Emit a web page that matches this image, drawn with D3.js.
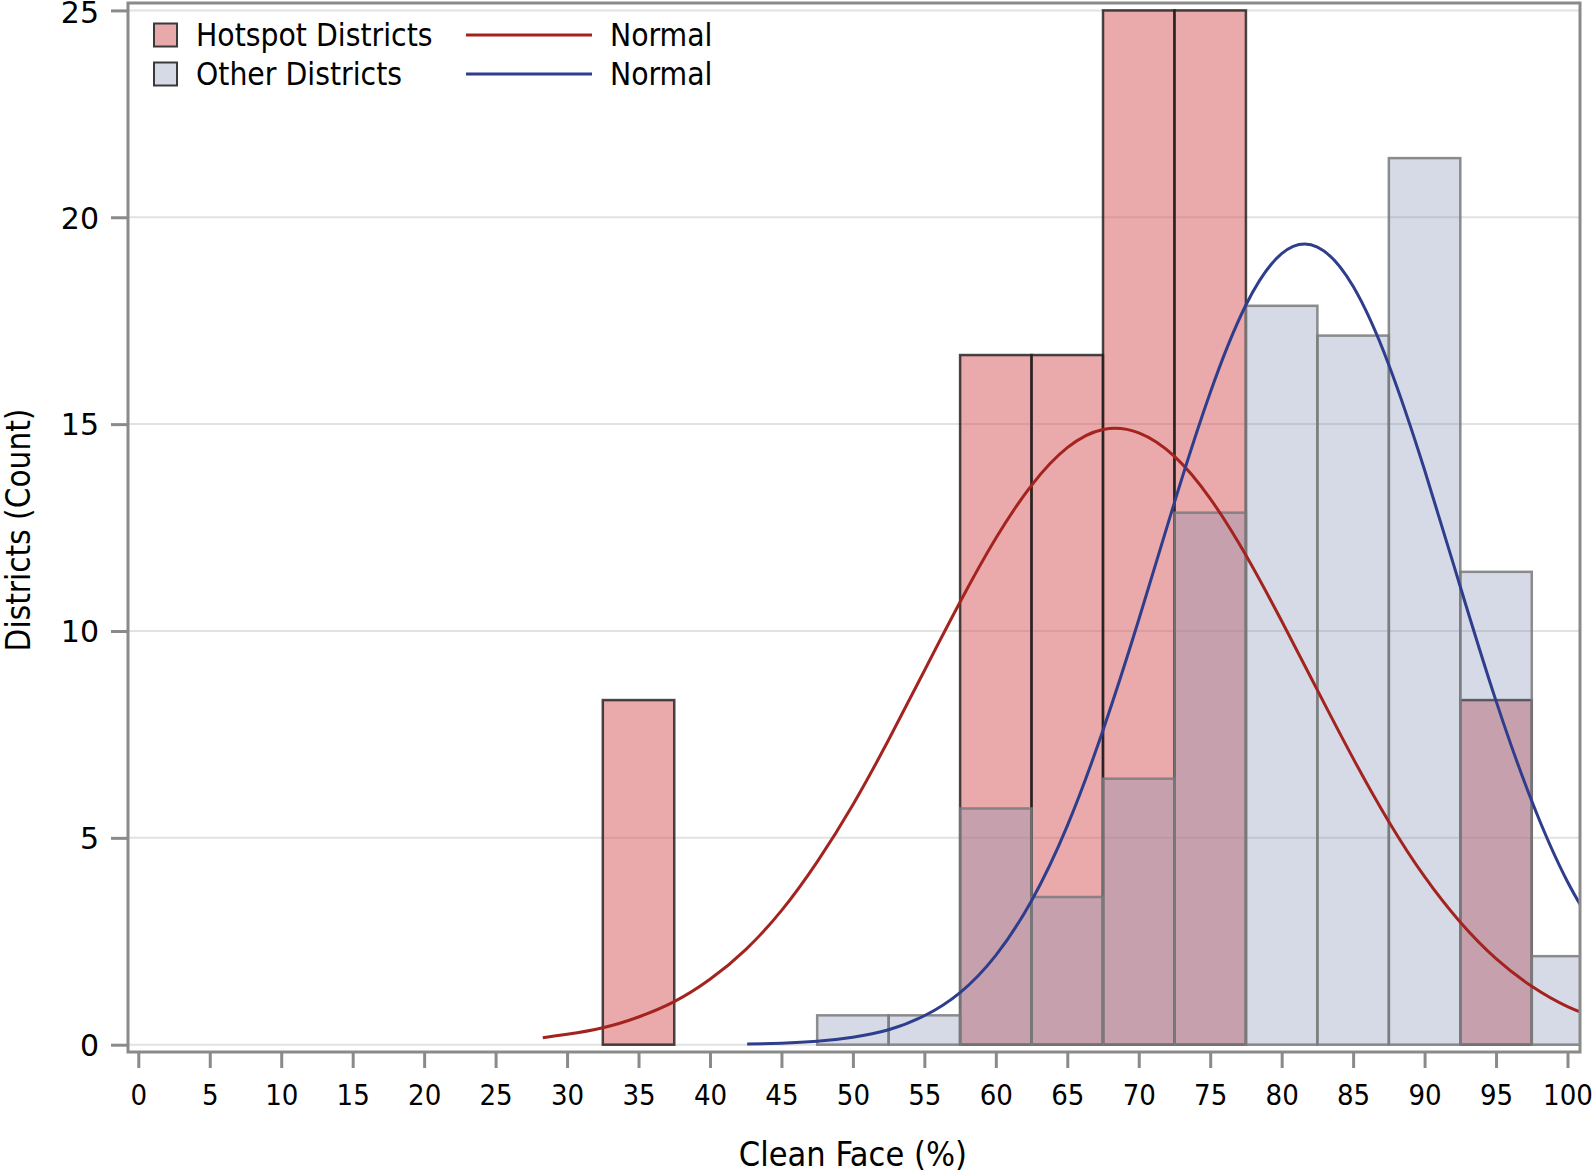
<!DOCTYPE html>
<html>
<head>
<meta charset="utf-8">
<script src="https://cdn.jsdelivr.net/npm/d3@7"></script>
<style>
  html, body { margin: 0; padding: 0; background: #fff; }
  svg { display: block; }
  .narrow { font-family: "Liberation Sans Narrow", "DejaVu Sans Condensed", "Liberation Sans", sans-serif; }
</style>
</head>
<body>
<svg id="chart" width="1595" height="1175"></svg>
<script>
// ---------------- data ----------------
const xTickValues = [0,5,10,15,20,25,30,35,40,45,50,55,60,65,70,75,80,85,90,95,100];
const yTickValues = [0,5,10,15,20,25];

const hotspotBins = [35,40,45,50,55,60,65,70,75,80,85,90,95];
const hotspotPct  = [8.33,0,0,0,0,16.67,16.67,25,25,0,0,0,8.33];

const otherBins = [50,55,60,65,70,75,80,85,90,95,100];
const otherPct  = [0.71,0.71,5.71,3.57,6.43,12.86,17.86,17.14,21.43,11.43,2.14];

// Normal curves, points
const hotspotNormX = [28.3,30,32.5,35,37.5,40,42.5,45,47.5,50,52.5,55,57.5,60,62.5,65,67.5,70,72.5,75,77.5,80,82.5,85,87.5,90,92.5,95,97.5,100,102.5];
const hotspotNormY = [0.17,0.25,0.41,0.67,1.04,1.58,2.30,3.24,4.42,5.80,7.37,9.04,10.70,12.24,13.52,14.43,14.87,14.79,14.22,13.20,11.83,10.24,8.57,6.92,5.39,4.06,2.96,2.08,1.41,0.92,0.59];

const otherNormX = [42.6,45,47.5,50,52.5,55,57.5,60,62.5,65,67.5,70,72.5,75,77.5,80,82.5,85,87.5,90,92.5,95,97.5,100,102.5];
const otherNormY = [0.015,0.035,0.081,0.18,0.36,0.70,1.26,2.16,3.48,5.29,7.60,10.27,13.11,15.76,17.88,19.12,19.28,18.33,16.43,13.89,11.07,8.31,5.89,3.94,2.48];

const legendLabels = ["Hotspot Districts", "Other Districts"];
const normalLabels = ["Normal", "Normal"];
const xTitle = "Clean Face (%)";
const yTitle = "Districts (Count)";

// ---------------- layout ----------------
const svg = d3.select("#chart");
const frame = {left: 128, right: 1580, top: 3, bottom: 1052};
const x = d3.scaleLinear().domain([0, 100]).range([138.3, 1567.5]);
const y = d3.scaleLinear().domain([0, 25]).range([1044.7, 10.4]);
const binW = 5;

const colors = {
  redFill: "rgb(213,83,85)", redFillOpacity: 0.5,
  blueFill: "rgb(128,143,179)", blueFillOpacity: 0.33,
  redStroke: "#1a1a1a", blueStroke: "#7a7a7a",
  redLine: "#a3231f", blueLine: "#2e3d8c",
  axis: "#8a8a8a", grid: "#e2e2e2"
};

svg.append("defs").append("clipPath").attr("id", "plotClip")
  .append("rect")
  .attr("x", frame.left).attr("y", frame.top)
  .attr("width", frame.right - frame.left).attr("height", frame.bottom - frame.top);

// gridlines
svg.append("g").selectAll("line").data(yTickValues).join("line")
  .attr("x1", frame.left).attr("x2", frame.right)
  .attr("y1", d => y(d)).attr("y2", d => y(d))
  .attr("stroke", colors.grid).attr("stroke-width", 2);

const plot = svg.append("g").attr("clip-path", "url(#plotClip)");

// red (hotspot) bars
const hot = hotspotBins.map((b, i) => ({b, v: hotspotPct[i]}));
plot.append("g").selectAll("rect").data(hot).join("rect")
  .attr("x", d => x(d.b - binW / 2))
  .attr("width", d => x(d.b + binW / 2) - x(d.b - binW / 2))
  .attr("y", d => y(d.v))
  .attr("height", d => y(0) - y(d.v))
  .attr("fill", colors.redFill).attr("fill-opacity", colors.redFillOpacity)
  .attr("stroke", colors.redStroke).attr("stroke-opacity", 0.8).attr("stroke-width", 2.5);

// blue (other) bars
const oth = otherBins.map((b, i) => ({b, v: otherPct[i]}));
plot.append("g").selectAll("rect").data(oth).join("rect")
  .attr("x", d => x(d.b - binW / 2))
  .attr("width", d => x(d.b + binW / 2) - x(d.b - binW / 2))
  .attr("y", d => y(d.v))
  .attr("height", d => y(0) - y(d.v))
  .attr("fill", colors.blueFill).attr("fill-opacity", colors.blueFillOpacity)
  .attr("stroke", colors.blueStroke).attr("stroke-opacity", 0.85).attr("stroke-width", 2.5);

// normal curves
const line = d3.line().x(d => x(d[0])).y(d => y(d[1])).curve(d3.curveNatural);
plot.append("path")
  .datum(hotspotNormX.map((v, i) => [v, hotspotNormY[i]]))
  .attr("d", line).attr("fill", "none")
  .attr("stroke", colors.redLine).attr("stroke-width", 3);
plot.append("path")
  .datum(otherNormX.map((v, i) => [v, otherNormY[i]]))
  .attr("d", line).attr("fill", "none")
  .attr("stroke", colors.blueLine).attr("stroke-width", 3);

// frame
svg.append("rect")
  .attr("x", frame.left).attr("y", frame.top)
  .attr("width", frame.right - frame.left).attr("height", frame.bottom - frame.top)
  .attr("fill", "none").attr("stroke", colors.axis).attr("stroke-width", 3);

// y axis
const yAxis = d3.axisLeft(y).tickValues(yTickValues).tickSize(17).tickPadding(12);
const yg = svg.append("g").attr("transform", `translate(${frame.left},0)`).call(yAxis);
yg.select(".domain").remove();
yg.selectAll(".tick line").attr("stroke", colors.axis).attr("stroke-width", 3);
yg.selectAll(".tick text")
  .attr("font-family", "DejaVu Sans, sans-serif").attr("font-size", 30)
  .attr("fill", "#000").attr("dy", d => d === 25 ? "0.4em" : "0.36em");

// x axis
const xAxis = d3.axisBottom(x).tickValues(xTickValues).tickSize(16).tickPadding(16);
const xg = svg.append("g").attr("transform", `translate(0,${frame.bottom})`).call(xAxis);
xg.select(".domain").remove();
xg.selectAll(".tick line").attr("stroke", colors.axis).attr("stroke-width", 3);
xg.selectAll(".tick text").attr("class", "narrow")
  .attr("font-size", 29).attr("fill", "#000");

// axis titles
svg.append("text").attr("class", "narrow")
  .attr("x", (x(0) + x(100)) / 2).attr("y", 1166)
  .attr("text-anchor", "middle").attr("font-size", 34).attr("fill", "#000")
  .text(xTitle);
svg.append("text").attr("class", "narrow")
  .attr("transform", "translate(30,530) rotate(-90)")
  .attr("text-anchor", "middle").attr("font-size", 33).attr("fill", "#000")
  .text(yTitle);

// legend
const legRows = [35, 74];
const leg = svg.append("g");
leg.selectAll("rect").data(legendLabels).join("rect")
  .attr("x", 154).attr("y", (d, i) => legRows[i] - 11.5)
  .attr("width", 23).attr("height", 23)
  .attr("fill", (d, i) => i === 0 ? "#e8a9aa" : "#d5dae6")
  .attr("stroke", "#3a3a3a").attr("stroke-width", 2);
leg.selectAll("text.lab").data(legendLabels).join("text").attr("class", "lab narrow")
  .attr("x", 196).attr("y", (d, i) => legRows[i])
  .attr("dy", "0.36em").attr("font-size", 31.5).attr("fill", "#000")
  .text(d => d);
leg.selectAll("line").data(normalLabels).join("line")
  .attr("x1", 466).attr("x2", 592)
  .attr("y1", (d, i) => legRows[i]).attr("y2", (d, i) => legRows[i])
  .attr("stroke", (d, i) => i === 0 ? colors.redLine : colors.blueLine)
  .attr("stroke-width", 3);
leg.selectAll("text.nl").data(normalLabels).join("text").attr("class", "nl narrow")
  .attr("x", 610).attr("y", (d, i) => legRows[i])
  .attr("dy", "0.36em").attr("font-size", 31.5).attr("fill", "#000")
  .text(d => d);
</script>
</body>
</html>
